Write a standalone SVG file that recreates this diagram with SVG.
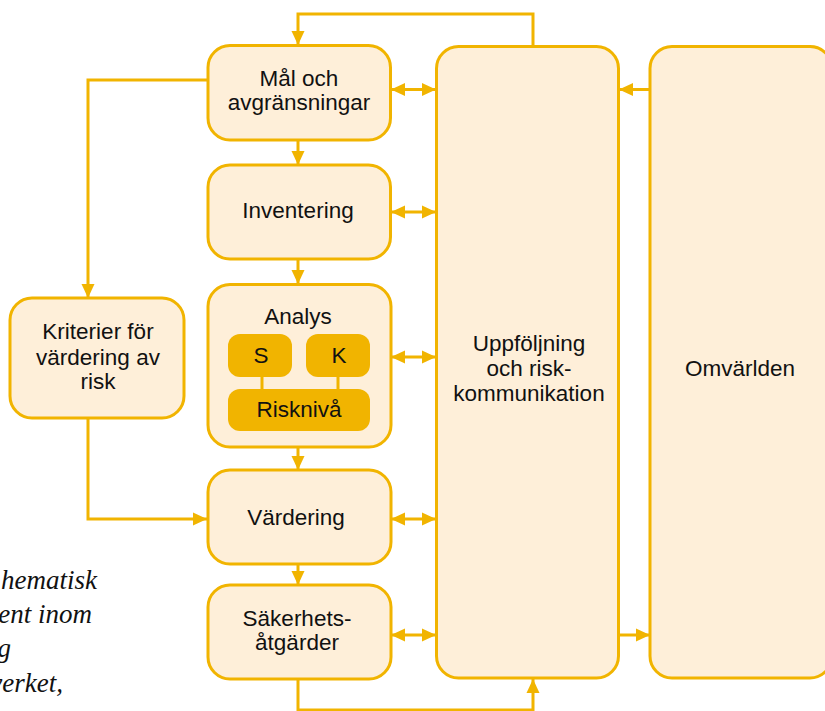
<svg xmlns="http://www.w3.org/2000/svg" width="825" height="711" viewBox="0 0 825 711">
<style>
.box{fill:#FEEFD9;stroke:#F1B400;stroke-width:3}
.inner{fill:#F1B400}
.t{font-family:"Liberation Sans",Arial,sans-serif;font-size:22.5px;fill:#111;text-anchor:middle}
.c{fill:none;stroke:#F1B400;stroke-width:3}
.cap{font-family:"Liberation Serif","Times New Roman",serif;font-style:italic;font-size:27px;fill:#111;text-anchor:end}
</style>
<defs>
<marker id="ah" viewBox="0 0 14 14" refX="14" refY="7" markerWidth="14" markerHeight="14" markerUnits="userSpaceOnUse" orient="auto-start-reverse">
<path d="M0,0.5 L14,7 L0,13.5 Z" fill="#F1B400"/>
</marker>
</defs>
<g id="connectors">
<line class="c" x1="298" y1="140" x2="298" y2="165" marker-end="url(#ah)"/>
<line class="c" x1="298" y1="259" x2="298" y2="284" marker-end="url(#ah)"/>
<line class="c" x1="298" y1="447" x2="298" y2="470" marker-end="url(#ah)"/>
<line class="c" x1="298" y1="564" x2="298" y2="585" marker-end="url(#ah)"/>
<line class="c" x1="391" y1="89.5" x2="436" y2="89.5" marker-start="url(#ah)" marker-end="url(#ah)"/>
<line class="c" x1="391" y1="212" x2="436" y2="212" marker-start="url(#ah)" marker-end="url(#ah)"/>
<line class="c" x1="391" y1="357" x2="436" y2="357" marker-start="url(#ah)" marker-end="url(#ah)"/>
<line class="c" x1="391" y1="519" x2="436" y2="519" marker-start="url(#ah)" marker-end="url(#ah)"/>
<line class="c" x1="391" y1="635" x2="436" y2="635" marker-start="url(#ah)" marker-end="url(#ah)"/>
<line class="c" x1="650" y1="89.5" x2="619" y2="89.5" marker-end="url(#ah)"/>
<line class="c" x1="619" y1="635" x2="650" y2="635" marker-end="url(#ah)"/>
<polyline class="c" points="533,46 533,14 298,14 298,45" marker-end="url(#ah)"/>
<polyline class="c" points="207,80 88,80 88,298" marker-end="url(#ah)"/>
<polyline class="c" points="88,418 88,519 207,519" marker-end="url(#ah)"/>
<polyline class="c" points="298,679 298,710 533,710 533,679" marker-end="url(#ah)"/>
</g>
<g id="n-mal">
<rect class="box" x="208" y="45.5" width="182.5" height="94.5" rx="22"/>
<text class="t" x="299" y="86">Mål och</text>
<text class="t" x="299" y="110">avgränsningar</text>
</g>
<g id="n-inventering">
<rect class="box" x="208" y="165" width="182.5" height="94" rx="22"/>
<text class="t" x="298" y="218">Inventering</text>
</g>
<g id="n-analys">
<rect class="box" x="208" y="284.5" width="183" height="162.5" rx="22"/>
<text class="t" x="298" y="324">Analys</text>
<rect class="inner" x="228" y="334" width="64" height="43" rx="12"/>
<rect class="inner" x="306" y="334" width="64" height="43" rx="12"/>
<line x1="262" y1="376" x2="262" y2="390" stroke="#F1B400" stroke-width="3"/>
<line x1="338" y1="376" x2="338" y2="390" stroke="#F1B400" stroke-width="3"/>
<rect class="inner" x="228" y="389" width="142" height="42" rx="12"/>
<text class="t" x="261" y="363">S</text>
<text class="t" x="339" y="363">K</text>
<text class="t" x="299" y="417">Risknivå</text>
</g>
<g id="n-vardering">
<rect class="box" x="208" y="470" width="183" height="94" rx="22"/>
<text class="t" x="296" y="525">Värdering</text>
</g>
<g id="n-sakerhet">
<rect class="box" x="208" y="585" width="183" height="94" rx="22"/>
<text class="t" x="297" y="626">Säkerhets-</text>
<text class="t" x="297" y="650">åtgärder</text>
</g>
<g id="n-kriterier">
<rect class="box" x="10" y="298" width="174" height="120" rx="22"/>
<text class="t" x="98" y="339">Kriterier för</text>
<text class="t" x="98" y="365">värdering av</text>
<text class="t" x="98" y="389">risk</text>
</g>
<g id="n-uppfoljning">
<rect class="box" x="436.5" y="46.5" width="182" height="631.5" rx="22"/>
<text class="t" x="529" y="351">Uppföljning</text>
<text class="t" x="529" y="376">och risk-</text>
<text class="t" x="529" y="401">kommunikation</text>
</g>
<g id="n-omvarlden">
<rect class="box" x="650" y="46.5" width="182" height="631.5" rx="22"/>
<text class="t" x="740" y="376">Omvärlden</text>
</g>
<g id="caption">
<text class="cap" x="97" y="589">hematisk</text>
<text class="cap" x="92" y="623">ent inom</text>
<text class="cap" x="11" y="657">g</text>
<text class="cap" x="63" y="692">verket,</text>
</g>
</svg>
